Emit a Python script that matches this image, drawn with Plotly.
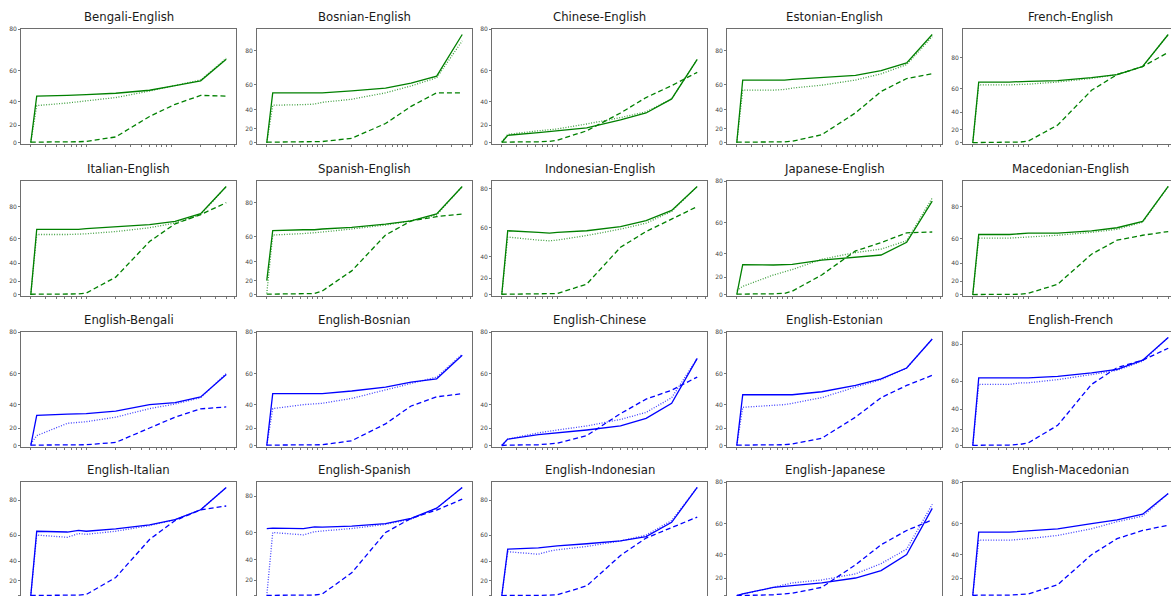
import numpy as np
import plotly.graph_objects as go

# ---------------- data ----------------
# common x positions (log axis, tick labels hidden in the original)
x_points = [2, 2.35, 5.4, 7.3, 9, 20, 50, 100, 200, 400]

pair_titles = [
    "Bengali-English", "Bosnian-English", "Chinese-English", "Estonian-English", "French-English",
    "Italian-English", "Spanish-English", "Indonesian-English", "Japanese-English", "Macedonian-English",
    "English-Bengali", "English-Bosnian", "English-Chinese", "English-Estonian", "English-French",
    "English-Italian", "English-Spanish", "English-Indonesian", "English-Japanese", "English-Macedonian",
]

bengali_english_solid = [0, 44, 44.5, 45, 45, 46, 48, 51, 54, 66]
bengali_english_dotted = [0, 37, 39, 40, 40.5, 43, 47.5, 51, 54.5, 66.5]
bengali_english_dashed = [0.5, 0.5, 1, 1, 1.5, 7, 28, 38, 44.5, 44]

bosnian_english_solid = [0, 54, 54, 54, 54, 55.5, 57.5, 61, 65.5, 88]
bosnian_english_dotted = [0, 44, 44.5, 45, 46.5, 49, 54, 59, 64.5, 85]
bosnian_english_dashed = [1, 1, 1, 1.5, 2, 7, 26, 43, 54, 54]

chinese_english_solid = [0, 9, 12, 13, 14, 17, 25, 31, 42, 66]
chinese_english_dotted = [1, 10, 14, 15.5, 16, 21, 27, 32, 42, 66]
chinese_english_dashed = [0.5, 0.5, 1, 1.5, 3, 14, 31, 43, 51, 59]

estonian_english_solid = [0, 63, 63, 63, 63.5, 64.5, 66, 69, 73.5, 88]
estonian_english_dotted = [0, 56, 56, 56.5, 57.5, 59.5, 63, 67, 72.5, 87]
estonian_english_dashed = [1, 1, 1, 1.5, 2.5, 12, 37, 55, 64, 67]

french_english_solid = [0, 65, 65, 65, 65.5, 66, 68, 70, 75, 92]
french_english_dotted = [0, 63, 63, 63, 63.5, 65, 67.5, 70, 75, 92]
french_english_dashed = [0.5, 0.5, 1, 1.5, 3, 26, 59, 70, 75, 83]

italian_english_solid = [0, 66.5, 66.5, 66.5, 67, 68, 69.5, 71.5, 76, 90]
italian_english_dotted = [0, 63, 63, 63, 63.5, 65, 67.5, 70.5, 75.5, 90]
italian_english_dashed = [1, 1, 1, 1.5, 3, 25, 58, 70, 75.5, 82]

spanish_english_solid = [20, 64, 64.5, 64.5, 65, 66, 68, 70, 74, 88]
spanish_english_dotted = [2, 61, 62, 62.5, 63, 65, 67.5, 70, 73.5, 88]
spanish_english_dashed = [1, 1, 1.5, 2, 6, 31, 61, 70, 72.5, 74]

indonesian_english_solid = [0, 58, 57, 56.5, 57, 58, 60.5, 64, 69.5, 81]
indonesian_english_dotted = [0, 54, 52, 51.5, 52, 55, 59, 62.5, 69, 81]
indonesian_english_dashed = [0.5, 0.5, 0.5, 1, 1.5, 13.5, 47, 57.5, 65, 71.5]

japanese_english_solid = [0, 31.3, 31, 31, 31.5, 35, 37, 39, 48, 71]
japanese_english_dotted = [5, 10, 22, 25, 27, 35.7, 40.8, 43.3, 49, 72.5]
japanese_english_dashed = [0.5, 0.5, 1, 1.5, 4.3, 22, 42, 47.8, 54, 54.5]

macedonian_english_solid = [0, 63, 63, 63.5, 64, 64, 65.5, 67.5, 71.5, 90]
macedonian_english_dotted = [0, 60.5, 60.5, 61, 61.5, 62.5, 64.5, 66.5, 71, 90]
macedonian_english_dashed = [0.5, 0.5, 0.5, 1, 2.5, 16, 48, 59, 62.5, 65]

english_bengali_solid = [0, 31.5, 32.5, 33, 33, 35, 40, 41.5, 45.5, 59.5]
english_bengali_dotted = [2, 12, 24.5, 25, 26, 30, 37, 40.5, 45, 60]
english_bengali_dashed = [0.5, 0.5, 0.5, 0.5, 1, 4, 20, 30, 36.8, 38.3]

english_bosnian_solid = [0, 47.7, 47.7, 47.7, 47.7, 49.5, 52, 55, 57, 69.5]
english_bosnian_dotted = [0, 37, 40, 40.5, 41, 44.5, 50, 54, 58, 70]
english_bosnian_dashed = [0.5, 0.5, 0.5, 0.5, 1, 6, 24, 39, 45.6, 47.7]

english_chinese_solid = [0, 8, 13, 14, 15, 18, 22, 29, 41, 68]
english_chinese_dotted = [0, 8, 15, 17, 18, 22, 28, 34, 45, 68]
english_chinese_dashed = [0, 0.5, 1, 2, 3, 12, 33, 44, 50, 58]

english_estonian_solid = [0, 47, 47, 47, 47, 49, 53, 57, 63, 77]
english_estonian_dotted = [0, 38, 39.5, 40, 41, 45, 52, 56.5, 63, 77]
english_estonian_dashed = [0.5, 0.5, 0.5, 1, 2, 9, 30, 45, 53, 59]

english_french_solid = [0, 62, 62, 62, 62, 63, 65, 67, 72, 83]
english_french_dotted = [0, 58, 58, 59, 59, 61, 64, 66.5, 71.5, 83]
english_french_dashed = [0.5, 0.5, 1, 2, 4, 25, 58, 68, 72, 78]

english_italian_solid = [0, 62.5, 62, 63, 62.5, 64, 66.5, 69.5, 75, 86]
english_italian_dotted = [0, 60, 58.5, 61, 60.5, 62.5, 66, 69.5, 75, 86]
english_italian_dashed = [0.5, 0.5, 0.5, 1, 2, 24, 57, 69, 75, 77]

english_spanish_solid = [62.5, 62.8, 62.5, 63.5, 63.3, 64, 65.5, 68.5, 74, 84]
english_spanish_dotted = [0, 60, 58.5, 60.5, 61, 62.5, 65, 68, 74, 84]
english_spanish_dashed = [0.5, 0.5, 0.5, 1, 2.5, 28, 60, 68.5, 73, 78.5]

english_indonesian_solid = [0, 50, 51, 52, 52.5, 54, 56, 59, 68, 86]
english_indonesian_dotted = [0, 48, 46, 48.5, 49.5, 52, 56, 60, 69, 86]
english_indonesian_dashed = [0, 0.5, 0.5, 1, 1.5, 14, 45, 58, 65, 71]

english_japanese_solid = [0, 2, 10, 11, 12, 15, 20, 27, 40, 68]
english_japanese_dotted = [0, 2, 10, 13, 15, 18, 24, 33, 44, 70]
english_japanese_dashed = [0, 0, 1, 2, 3, 10, 32, 47, 56, 62]

english_macedonian_solid = [0, 55, 55, 55.5, 55.5, 57, 60, 62, 65, 75]
english_macedonian_dotted = [0, 50, 50, 50.5, 51, 53, 57, 61, 64, 75]
english_macedonian_dashed = [0, 0.5, 0.5, 1, 2, 13, 40, 51, 56, 59]

series = [
    (bengali_english_solid, bengali_english_dotted, bengali_english_dashed),
    (bosnian_english_solid, bosnian_english_dotted, bosnian_english_dashed),
    (chinese_english_solid, chinese_english_dotted, chinese_english_dashed),
    (estonian_english_solid, estonian_english_dotted, estonian_english_dashed),
    (french_english_solid, french_english_dotted, french_english_dashed),
    (italian_english_solid, italian_english_dotted, italian_english_dashed),
    (spanish_english_solid, spanish_english_dotted, spanish_english_dashed),
    (indonesian_english_solid, indonesian_english_dotted, indonesian_english_dashed),
    (japanese_english_solid, japanese_english_dotted, japanese_english_dashed),
    (macedonian_english_solid, macedonian_english_dotted, macedonian_english_dashed),
    (english_bengali_solid, english_bengali_dotted, english_bengali_dashed),
    (english_bosnian_solid, english_bosnian_dotted, english_bosnian_dashed),
    (english_chinese_solid, english_chinese_dotted, english_chinese_dashed),
    (english_estonian_solid, english_estonian_dotted, english_estonian_dashed),
    (english_french_solid, english_french_dotted, english_french_dashed),
    (english_italian_solid, english_italian_dotted, english_italian_dashed),
    (english_spanish_solid, english_spanish_dotted, english_spanish_dashed),
    (english_indonesian_solid, english_indonesian_dotted, english_indonesian_dashed),
    (english_japanese_solid, english_japanese_dotted, english_japanese_dashed),
    (english_macedonian_solid, english_macedonian_dotted, english_macedonian_dashed),
]

y_tick_values = [0, 20, 40, 60, 80]
x_minor_ticks = [2, 3, 4, 5, 6, 7, 8, 9, 20, 30, 40, 50, 60, 70, 80, 90, 200, 300, 400, 500]

# ---------------- layout geometry ----------------
W, H = 1171, 596
col_left = [21, 257, 492, 727, 963]
row_top = [29, 181, 332, 482]
box_w, box_h = 215, 115


def fy(v):
    # the y scale of the original is linear in 10**(v/160)
    return np.power(10.0, np.asarray(v, dtype=float) / 160.0)


fig = go.Figure()
annotations = []
layout = {}

xlo = np.log10(min(x_points))
xhi = np.log10(max(x_points))
xm = 0.05 * (xhi - xlo)
x_range_full = [xlo - xm, xhi + xm]

for i, (title, (s_solid, s_dot, s_dash)) in enumerate(zip(pair_titles, series)):
    r, c = divmod(i, 5)
    color = "#008000" if i < 10 else "#0000ff"
    ax = i + 1
    xa = "x" if ax == 1 else f"x{ax}"
    ya = "y" if ax == 1 else f"y{ax}"

    styles = [(s_solid, "solid", 1.0), (s_dot, "1px,1.6px", 0.75), (s_dash, "5px,3px", 1.0)]
    for vals, dash, op in styles:
        fig.add_trace(go.Scatter(
            x=x_points, y=fy(vals), mode="lines", xaxis=xa, yaxis=ya,
            line=dict(color=color, width=1.3, dash=dash), opacity=op,
            showlegend=False, hoverinfo="skip"))

    # y range
    all_vals = list(s_solid) + list(s_dot) + list(s_dash)
    ybot = float(fy(-2))
    dmax = float(fy(max(all_vals)))
    ytop = max(float(fy(80)), dmax + 0.05 * (dmax - ybot))

    # pixel box -> domains (clip at page edges)
    left, top = col_left[c], row_top[r]
    right, bottom = left + box_w, top + box_h
    x_range = list(x_range_full)
    y_range = [ybot, ytop]
    clipped_right = right > W
    clipped_bottom = bottom > H
    if clipped_right:
        frac = (W - left) / box_w
        x_range = [x_range_full[0], x_range_full[0] + frac * (x_range_full[1] - x_range_full[0])]
        right = W
    if clipped_bottom:
        frac = (H - top) / box_h
        y_range = [ytop - frac * (ytop - ybot), ytop]
        bottom = H

    xdom = [left / W, right / W]
    ydom = [1 - bottom / H, 1 - top / H]

    xkey = "xaxis" if ax == 1 else f"xaxis{ax}"
    ykey = "yaxis" if ax == 1 else f"yaxis{ax}"
    layout[xkey] = dict(
        domain=xdom, anchor=ya, type="log", range=x_range, automargin=False,
        tickmode="array", tickvals=x_minor_ticks, showticklabels=False,
        ticks="" if clipped_bottom else "outside", ticklen=2, tickwidth=0.8, tickcolor="#555",
        showline=True, linecolor="#6e6e6e", linewidth=1,
        mirror=False if clipped_bottom else True,
        side="top" if clipped_bottom else "bottom",
        showgrid=False, zeroline=False, fixedrange=True,
    )
    layout[ykey] = dict(
        domain=ydom, anchor=xa, range=y_range, automargin=False,
        tickmode="array", tickvals=list(fy(y_tick_values)), ticktext=[str(t) for t in y_tick_values],
        ticks="outside", ticklen=2, tickwidth=0.8, tickcolor="#555",
        tickfont=dict(size=6, color="#444", family="DejaVu Sans"),
        showline=True, linecolor="#6e6e6e", linewidth=1,
        mirror=False if clipped_right else True,
        showgrid=False, zeroline=False, fixedrange=True,
    )

    annotations.append(dict(
        text=title, xref="paper", yref="paper",
        x=(col_left[c] + box_w / 2) / W, y=1 - (top - 3) / H,
        xanchor="center", yanchor="bottom", showarrow=False,
        font=dict(size=13, color="#1a1a1a", family="DejaVu Sans Condensed, DejaVu Sans"),
    ))

fig.update_layout(
    width=W, height=H, margin=dict(l=0, r=0, t=0, b=0, autoexpand=False),
    paper_bgcolor="white", plot_bgcolor="white",
    annotations=annotations, showlegend=False,
    **layout,
)

fig.write_html(
    "out.html",
    config={"displayModeBar": False, "staticPlot": True},
    post_script="document.body.style.margin='0';document.body.style.overflow='hidden';",
)
